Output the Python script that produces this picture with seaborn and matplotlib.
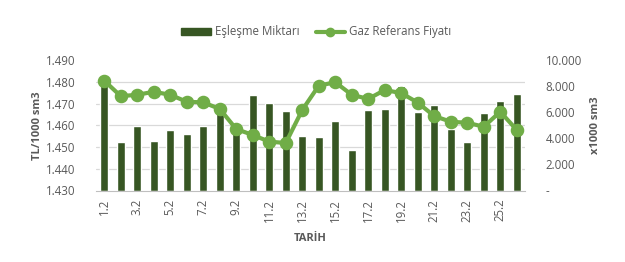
import matplotlib
matplotlib.use("Agg")
import matplotlib.pyplot as plt
import matplotlib.ticker as mticker
from matplotlib.lines import Line2D
from matplotlib.patches import Patch
import seaborn as sns
import numpy as np

dates = ["1.2", "2.2", "3.2", "4.2", "5.2", "6.2", "7.2", "8.2", "9.2", "10.2",
         "11.2", "12.2", "13.2", "14.2", "15.2", "16.2", "17.2", "18.2", "19.2",
         "20.2", "21.2", "22.2", "23.2", "24.2", "25.2", "26.2"]
volume = [8450, 3740, 4980, 3820, 4650, 4360, 4980, 6070, 4520, 7310,
          6690, 6120, 4190, 4110, 5350, 3100, 6200, 6280, 8060, 6050,
          6590, 4730, 3740, 5970, 6900, 7390]
price = [1480.6, 1473.5, 1474.1, 1475.5, 1474.1, 1470.9, 1470.6, 1467.6, 1458.3, 1455.6,
         1452.5, 1451.9, 1467.1, 1478.3, 1479.9, 1474.1, 1472.2, 1476.3, 1474.9, 1470.5,
         1464.3, 1461.7, 1461.2, 1459.4, 1466.3, 1457.9]

bar_name = "Eşleşme Miktarı"
line_name = "Gaz Referans Fiyatı"

sns.set_style("white")
plt.rcParams['font.family'] = ['Open Sans', 'DejaVu Sans']

BAR_C = "#375623"
LINE_C = "#70AD47"
TXT = "#595959"
GRID = "#D9D9D9"

fig = plt.figure(figsize=(6.25, 2.62), dpi=100)
ax = fig.add_axes([96/625, 1-190.5/262, (525-96)/625, (190.5-60.3)/262])

sns.barplot(x=dates, y=volume, ax=ax, color=BAR_C, width=0.46, saturation=1, zorder=2)
ax.set_ylim(0, 10000)
ax.set_xlim(-0.5, len(dates) - 0.5)

ax2 = ax.twinx()
sns.pointplot(x=dates, y=price, ax=ax2, color=LINE_C, linewidth=3, markersize=7.5, zorder=3)
ax2.set_ylim(1430, 1490)
ax2.set_xlim(-0.5, len(dates) - 0.5)

# gridlines on bar axis (behind bars), following left scale divisions
ax.yaxis.set_minor_locator(mticker.LinearLocator(7))
ax.grid(which='minor', axis='y', color=GRID, linewidth=0.9, zorder=0)
ax.grid(which='major', axis='y', visible=False)
ax.set_axisbelow(True)

# right axis (volume)
ax.yaxis.tick_right()
ax.yaxis.set_label_position('right')
ax.set_yticks(np.arange(0, 10001, 2000))
ax.yaxis.set_major_formatter(mticker.FuncFormatter(
    lambda v, p: "-" if v == 0 else f"{int(v):,}".replace(",", ".")))
ax.tick_params(axis='y', which='both', length=0, pad=15, labelsize=8.3, labelcolor=TXT)
ax.set_ylabel("x1000 sm3", fontsize=8, fontweight='bold', color=TXT, labelpad=6)

# left axis (price)
ax2.yaxis.tick_left()
ax2.yaxis.set_label_position('left')
ax2.set_yticks(np.arange(1430, 1491, 10))
ax2.yaxis.set_major_formatter(mticker.FuncFormatter(
    lambda v, p: f"{int(round(v)):,}".replace(",", ".")))
ax2.tick_params(axis='y', which='both', length=0, pad=15, labelsize=8.3, labelcolor=TXT)
ax2.set_ylabel("TL/1000 sm3", fontsize=8, fontweight='bold', color=TXT, labelpad=2)

# x axis
pos = np.arange(len(dates))
ax.set_xticks(pos[::2])
ax.set_xticklabels(dates[::2], rotation=90)
ax.set_xticks(np.arange(-0.5, len(dates), 2), minor=True)
ax.tick_params(axis='x', which='major', length=0, pad=6, labelsize=8.3, labelcolor=TXT)
ax.tick_params(axis='x', which='minor', length=4, color="#BFBFBF", width=0.8)
ax.set_xlabel("TARİH", fontsize=8, fontweight='bold', color=TXT, labelpad=8)
ax2.tick_params(axis='x', which='both', length=0, labelbottom=False)
ax2.set_xlabel("")

for a in (ax, ax2):
    for s in a.spines.values():
        s.set_visible(False)
ax.spines['bottom'].set_visible(True)
ax.spines['bottom'].set_color("#BFBFBF")
ax.spines['bottom'].set_linewidth(0.8)

handles = [Patch(facecolor=BAR_C, edgecolor=BAR_C),
           Line2D([0], [0], color=LINE_C, linewidth=3, marker='o', markersize=6)]
fig.legend(handles, [bar_name, line_name], loc='center', bbox_to_anchor=(0.506, 1-32/262),
           ncol=2, frameon=False, fontsize=8.3, labelcolor=TXT, handlelength=2.6,
           handleheight=0.5, columnspacing=1.4, handletextpad=0.3)

fig.savefig("out.png", dpi=100)
